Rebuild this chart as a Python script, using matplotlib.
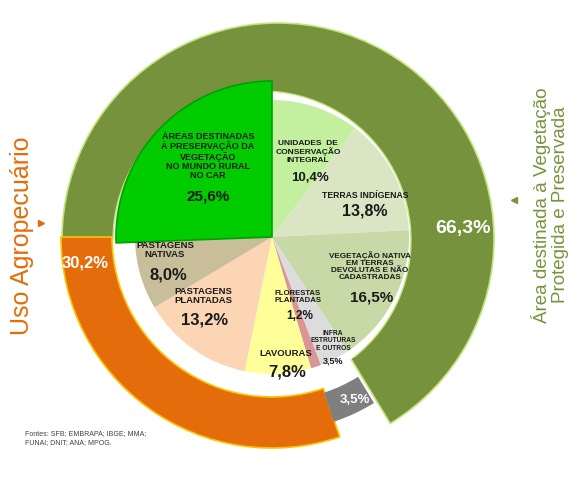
import matplotlib
matplotlib.use('Agg')
import matplotlib.pyplot as plt
from matplotlib.patches import Circle, Arc

plt.rcParams['font.family'] = ['Liberation Sans', 'DejaVu Sans']

# inner pie, clockwise from the top
inner_names = ['UNIDADES  DE\nCONSERVAÇÃO\nINTEGRAL',
               'TERRAS INDÍGENAS',
               'VEGETAÇÃO NATIVA\nEM TERRAS\nDEVOLUTAS E NÃO\nCADASTRADAS',
               'INFRA\nESTRUTURAS\nE OUTROS',
               'FLORESTAS\nPLANTADAS',
               'LAVOURAS',
               'PASTAGENS\nPLANTADAS',
               'PASTAGENS\nNATIVAS',
               'ÁREAS DESTINADAS\nÀ PRESERVAÇÃO DA\nVEGETAÇÃO\nNO MUNDO RURAL\nNO CAR']
inner_values = [10.4, 13.8, 16.5, 3.5, 1.2, 7.8, 13.2, 8.0, 25.6]
inner_colors = ['#C2F09E', '#DAE5C3', '#C6D9A6', '#DCDCDC', '#D99694',
                '#FFFF99', '#FCD5B5', '#C8BF9A', '#00CC00']

# outer ring, counterclockwise from the left
outer_values = [30.2, 3.5, 66.3]
outer_colors = ['#E46C0A', '#7F7F7F', '#76923C']
outer_edges = ['#FFC000', '#7F7F7F', '#C3E57F']
side_labels = ['Uso Agropecuário', 'Área destinada à Vegetação\nProtegida e Preservada']
source_text = 'Fontes: SFB; EMBRAPA; IBGE; MMA;\nFUNAI; DNIT; ANA; MPOG.'

H = 479
cx, cy = 272, H - 237


def pct(v):
    return f'{v:.1f}'.replace('.', ',') + '%'


fig = plt.figure(figsize=(5.8, 4.79), dpi=100)
ax = fig.add_axes([0, 0, 1, 1])

# outer ring
outer, _ = ax.pie(outer_values, colors=outer_colors, startangle=180,
                  counterclock=True, center=(cx, cy), radius=217,
                  wedgeprops=dict(width=69, linewidth=1.2), frame=True)
ring_sizes = [(211, 51), (194, 29), (216, 100)]
for w, (r, wd), ec in zip(outer, ring_sizes, outer_edges):
    w.set_radius(r)
    w.set_width(wd)
    w.set_edgecolor(ec)
outer[2].set_center((cx + 6, H - 239))
outer[2].set_zorder(1)
outer[0].set_zorder(1.6)
outer[1].set_zorder(1.6)
# white gap between the ring and the pie (ring is thicker on the right)
ax.add_patch(Circle((262, H - 240), 149, facecolor='white', edgecolor='none',
                    zorder=1.5))
ax.add_patch(Arc((262, H - 240), 298, 298, theta1=-52, theta2=180,
                 color='#C3E57F', linewidth=1, zorder=1.55))

# inner pie
inner, _ = ax.pie(inner_values, colors=inner_colors, startangle=90,
                  counterclock=False, center=(cx, cy), radius=137,
                  wedgeprops=dict(linewidth=0, zorder=2), frame=True)
inner[-1].set_radius(156)
inner[-1].set_edgecolor('#00A000')
inner[-1].set_linewidth(1.2)
inner[-1].set_zorder(3)

# label layout: name centre, percent position, name size, percent size
layout = [((308, 152), (310, 178), 6.0, 9.5),
          ((365, 195), (365, 211), 6.2, 11.5),
          ((370, 266), (372, 298), 5.9, 11),
          ((333, 341), (333, 361), 4.8, 6.5),
          ((298, 297), (300, 316), 5.6, 8.5),
          ((286, 353), (287, 372), 6.8, 12),
          ((203, 296), (205, 320), 6.8, 12),
          ((165, 250), (168, 275), 6.8, 12),
          ((208, 156), (208, 196), 6.5, 11)]
for name, v, (npos, ppos, ns, ps) in zip(inner_names, inner_values, layout):
    ax.text(npos[0], H - npos[1], name, ha='center', va='center',
            fontsize=ns, fontweight='bold', color='#1A1A1A', linespacing=1.05,
            zorder=5)
    ax.text(ppos[0], H - ppos[1], pct(v), ha='center', va='center',
            fontsize=ps, fontweight='bold', color='#1A1A1A', zorder=5)

# outer ring values
ring_text = [((85, 263), 12), ((355, 400), 9.5), ((463, 228), 14)]
for v, (pos, fs) in zip(outer_values, ring_text):
    ax.text(pos[0], H - pos[1], pct(v), ha='center', va='center',
            fontsize=fs, fontweight='bold', color='white', zorder=5)

# side labels with small arrows
ax.text(22, H - 236, side_labels[0], rotation=90, ha='center', va='center',
        fontsize=18, color='#E46C0A')
ax.plot([41], [H - 223], marker='>', color='#E46C0A', markersize=5)
ax.text(550, H - 205, side_labels[1], rotation=90, ha='center', va='center',
        fontsize=13.5, color='#77933C', linespacing=1.15)
ax.plot([514], [H - 200], marker='<', color='#77933C', markersize=5)

ax.text(25, H - 438, source_text, ha='left', va='center', fontsize=5,
        color='#404040', linespacing=1.3)

ax.set_xlim(0, 580)
ax.set_ylim(0, H)
ax.set_aspect('equal')
ax.axis('off')

plt.savefig('out.png', dpi=100)
